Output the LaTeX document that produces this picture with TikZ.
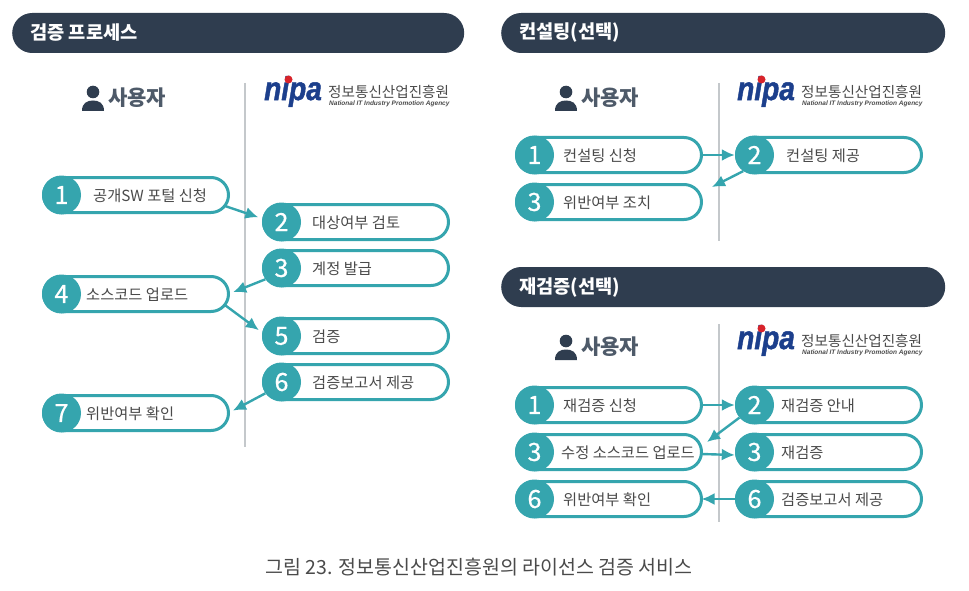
\documentclass[tikz,border=0pt]{standalone}
\usepackage{fontspec}
\setmainfont{Noto Sans CJK KR}
\newfontfamily\logofont{Liberation Sans}
\newfontfamily\logoheavy[FakeBold=1.5]{Liberation Sans Bold Italic}
\newfontfamily\numfont[FakeBold=0.7]{Noto Sans CJK KR}
\usetikzlibrary{shapes.misc, arrows.meta}

\definecolor{tealc}{HTML}{35A5AE}
\definecolor{navyc}{HTML}{2F3D4F}
\definecolor{textc}{HTML}{4A4A4A}
\definecolor{rulec}{HTML}{C4C8CB}
\definecolor{nipab}{HTML}{1C3F8C}
\definecolor{nipar}{HTML}{D8232A}

\tikzset{
  header/.style={rounded rectangle, fill=navyc, minimum height=40pt, inner sep=0pt, anchor=west},
  headtext/.style={anchor=west, inner sep=0pt, text=white, font=\fontsize{18.7}{18.7}\selectfont\bfseries},
  pill/.style={rounded rectangle, draw=tealc, fill=white, line width=3pt, minimum width=185pt, minimum height=35pt, inner sep=0pt, outer sep=0pt, anchor=west},
  numdot/.style={circle, fill=tealc, minimum size=39pt, inner sep=0pt, text=white, font=\numfont\fontsize{25}{25}\selectfont},
  steptext/.style={anchor=west, inner sep=0pt, text=textc, font=\fontsize{15.3}{15.3}\selectfont},
  flow/.style={-{Latex[length=13pt,width=12pt]}, draw=tealc, line width=2.4pt},
  divider/.style={draw=rulec, line width=1.6pt},
  usertext/.style={anchor=west, inner sep=0pt, text=navyc!85!white, font=\fontsize{21}{21}\selectfont\bfseries},
  logotext/.style={anchor=west, inner sep=0pt, text=textc}
}

% name, x, y, number, x of text, text
\newcommand{\pillnode}[6]{
  \node[pill] (#1) at (#2+1.5,#3) {};
  \node[numdot] (#1n) at (#2+19.5,#3) {#4};
  \node[steptext] (#1t) at (#5,#3+1) {#6};
}

\begin{document}
\begin{tikzpicture}[x=1pt,y=-1pt]
  \useasboundingbox (0,0) rectangle (969,591);

  % headers
  \node[header, minimum width=452pt] (headA) at (12,33) {};
  \node[headtext] (headAt) at (30,33) {검증 프로세스};
  \node[header, minimum width=444pt] (headB) at (501,33) {};
  \node[headtext] (headBt) at (519,33) {컨설팅(선택)};
  \node[header, minimum width=444pt] (headC) at (501,287) {};
  \node[headtext] (headCt) at (519,288) {재검증(선택)};

  % dividers
  \draw[divider] (245,83) -- (245,447);
  \draw[divider] (719,83) -- (719,241);
  \draw[divider] (719,324) -- (719,522);

  % user label and logo
  \foreach \dx/\dy/\tag in {0/0/A, 473/0/B, 473/249/C} {
    \begin{scope}[shift={(\dx,\dy)}]
      \fill[navyc] (93,92) circle [radius=6.3];
      \fill[navyc] (82,111) .. controls (82,103) and (87,100.5) .. (93,100.5)
        .. controls (99,100.5) and (104,103) .. (104,111) -- cycle;
      \node[usertext] (user\tag) at (108,98) {사용자};
      \node[logotext, text=nipab, font=\logoheavy\fontsize{33}{33}\selectfont] (nipa\tag) at (264,91.5) {\scalebox{0.85}[1]{nipa}};
      \fill[nipar] (288.5,79.5) circle [radius=4];
      \node[logotext, font=\fontsize{14.6}{14.6}\selectfont] (org\tag) at (328,92) {정보통신산업진흥원};
      \node[logotext, font=\logofont\fontsize{6.5}{6.5}\selectfont\bfseries\itshape] (eng\tag) at (329,104) {National IT Industry Promotion Agency};
    \end{scope}
  }

  % process steps
  \pillnode{a1}{42}{195}{1}{93}{공개SW 포털 신청}
  \pillnode{a2}{262}{222}{2}{312}{대상여부 검토}
  \pillnode{a3}{262}{268}{3}{312}{계정 발급}
  \pillnode{a4}{42}{294}{4}{86}{소스코드 업로드}
  \pillnode{a5}{262}{336}{5}{312}{검증}
  \pillnode{a6}{262}{382}{6}{312}{검증보고서 제공}
  \pillnode{a7}{42}{413}{7}{86}{위반여부 확인}
  \draw[flow, shorten >=4pt] (a1.-7) -- (a2n.170);
  \draw[flow, shorten >=5pt] (a3n.-145) -- (a4.east);
  \draw[flow, shorten >=4pt] (a4.-7) -- (a5n.170);
  \draw[flow, shorten >=5pt] (a6n.-145) -- (a7.east);

  % consulting
  \pillnode{b1}{515}{155}{1}{563}{컨설팅 신청}
  \pillnode{b2}{735}{155}{2}{786}{컨설팅 제공}
  \pillnode{b3}{515}{202}{3}{563}{위반여부 조치}
  \coordinate (b3e) at (712,187);
  \draw[flow] (b1.east) -- (b2n.west);
  \draw[flow] (b2n.-125) -- (b3e);

  % re-verification
  \pillnode{c1}{515}{405}{1}{563}{재검증 신청}
  \pillnode{c2}{735}{405}{2}{781}{재검증 안내}
  \pillnode{c3}{515}{452}{3}{561}{수정 소스코드 업로드}
  \pillnode{c4}{735}{452}{3}{781}{재검증}
  \pillnode{c5}{515}{499}{6}{563}{위반여부 확인}
  \pillnode{c6}{735}{499}{6}{781}{검증보고서 제공}
  \coordinate (c3e) at (707,442);
  \draw[flow] (c1.east) -- (c2n.west);
  \draw[flow] (c2n.-140) -- (c3e);
  \draw[flow] ([yshift=-2pt]c3.east) -- ([yshift=-3pt]c4n.west);
  \draw[flow] (c6n.west) -- (c5.east);

  % caption
  \node[inner sep=0pt, text=textc, font=\fontsize{19.5}{19.5}\selectfont] (caption) at (479,567) {그림 23. 정보통신산업진흥원의 라이선스 검증 서비스};
\end{tikzpicture}
\end{document}
